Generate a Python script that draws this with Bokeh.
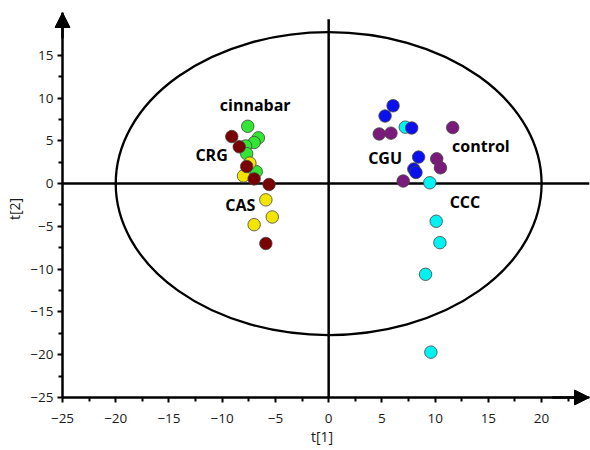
from bokeh.plotting import figure
from bokeh.models import Range1d, FixedTicker, Arrow, NormalHead, ColumnDataSource, LinearAxis
from bokeh.core.properties import value
from bokeh.embed import file_html
from bokeh.resources import INLINE

# ---- data (t[1], t[2] scores) ----
crg_x = [-9.1, -8.4, -7.7, -7.0, -5.6, -5.9]
crg_y = [5.5, 4.3, 2.0, 0.55, -0.1, -7.0]

cinnabar_x = [-7.6, -6.6, -7.0, -7.8, -7.7, -6.8]
cinnabar_y = [6.7, 5.35, 4.8, 4.4, 3.5, 1.4]

cas_x = [-7.4, -8.0, -5.9, -5.3, -7.0]
cas_y = [2.4, 0.9, -1.9, -3.9, -4.8]

cgu_x = [6.05, 5.3, 7.8, 8.45, 8.0, 8.2]
cgu_y = [9.1, 7.9, 6.5, 3.1, 1.7, 1.3]

ccc_x = [7.2, 9.5, 10.1, 10.45, 9.1, 9.6]
ccc_y = [6.6, 0.1, -4.4, -6.9, -10.6, -19.7]

control_x = [4.75, 5.85, 11.65, 10.15, 10.5, 7.0]
control_y = [5.8, 5.9, 6.55, 2.9, 1.85, 0.3]

group_names = ["cinnabar", "CRG", "CAS", "CGU", "control", "CCC"]
label_x = [-6.9, -11.0, -8.3, 5.3, 14.3, 12.8]
label_y = [9.2, 3.3, -2.5, 3.0, 4.45, -2.1]

x_ticks = [-25, -20, -15, -10, -5, 0, 5, 10, 15, 20]
x_minor = [-22.5, -17.5, -12.5, -7.5, -2.5, 2.5, 7.5, 12.5, 17.5, 22.5]
y_ticks = [-25, -20, -15, -10, -5, 0, 5, 10, 15]
y_minor = [-22.5, -17.5, -12.5, -7.5, -2.5, 2.5, 7.5, 12.5]

x_axis_min, x_axis_max = -25, 24.5
y_axis_min, y_axis_max = -25, 20.0

ellipse_w = 40.0
ellipse_h = 35.4

FONT = "Open Sans"

# frame slightly larger than the axes so the arrow heads are not clipped
x_pad = 8 / 10.644
y_pad = 8 / 8.55
p = figure(frame_width=535, frame_height=393,
           x_range=Range1d(x_axis_min - x_pad, x_axis_max),
           y_range=Range1d(y_axis_min - y_pad, y_axis_max),
           output_backend="svg", toolbar_location=None,
           min_border_left=54, min_border_top=12, min_border_right=1, min_border_bottom=45)
p.outline_line_color = None
p.xgrid.visible = False
p.ygrid.visible = False
p.background_fill_color = "white"

# panel axes: tick labels and axis titles only
for ax, ticks, minor in ((p.xaxis[0], x_ticks, x_minor), (p.yaxis[0], y_ticks, y_minor)):
    ax.ticker = FixedTicker(ticks=ticks, minor_ticks=minor)
    ax.axis_line_color = None
    ax.major_tick_line_color = None
    ax.minor_tick_line_color = None
    ax.major_tick_out = 0
    ax.major_tick_in = 0
    ax.minor_tick_out = 0
    ax.minor_tick_in = 0
    ax.major_label_text_font = FONT
    ax.major_label_text_font_size = "13.5px"
    ax.major_label_text_color = "#1a1a1a"
    ax.axis_label_text_font = FONT
    ax.axis_label_text_font_size = "14px"
    ax.axis_label_text_font_style = "normal"
    ax.axis_label_text_color = "#1a1a1a"

p.xaxis.axis_label = "t[1]"
p.yaxis.axis_label = "t[2]"
p.xaxis.major_label_standoff = 8
p.xaxis.axis_label_standoff = 1
p.yaxis.major_label_standoff = 1
p.yaxis.axis_label_standoff = 3

# axis lines with ticks, fixed at -25 inside the frame
for side, ticks, minor, bnds in (("below", x_ticks, x_minor, (x_axis_min, x_axis_max)),
                                 ("left", y_ticks, y_minor, (y_axis_min, y_axis_max))):
    ax = LinearAxis(fixed_location=-25, ticker=FixedTicker(ticks=ticks, minor_ticks=minor),
                    bounds=bnds, major_label_text_font_size="0px",
                    major_label_text_color=None,
                    axis_line_width=2.5, axis_line_color="black",
                    major_tick_line_width=2, minor_tick_line_width=2,
                    major_tick_out=5, major_tick_in=0, minor_tick_out=4, minor_tick_in=0)
    p.add_layout(ax, side)

# cross lines through origin
p.segment(x0=[0, x_axis_min], y0=[y_axis_min, 0], x1=[0, x_axis_max], y1=[19.2, 0],
          line_color="black", line_width=2.5)

# Hotelling ellipse
p.ellipse(x=0, y=0, width=ellipse_w, height=ellipse_h,
          fill_color=None, line_color="black", line_width=2.3)

# axis arrows
p.add_layout(Arrow(end=NormalHead(size=15, fill_color="black", line_color="black", line_width=1),
                   x_start=x_axis_min, y_start=17.0, x_end=x_axis_min, y_end=y_axis_max,
                   line_color="black", line_width=2.5))
p.add_layout(Arrow(end=NormalHead(size=15, fill_color="black", line_color="black", line_width=1),
                   x_start=21.0, y_start=y_axis_min, x_end=x_axis_max, y_end=y_axis_min,
                   line_color="black", line_width=2.5))

groups = [
    (cinnabar_x, cinnabar_y, "#33E633"),
    (cas_x, cas_y, "#F2E600"),
    (crg_x, crg_y, "#7A0000"),
    (control_x, control_y, "#7A1A7A"),
    (ccc_x, ccc_y, "#00F2F2"),
    (cgu_x, cgu_y, "#0A10EE"),
]
for xs, ys, col in groups:
    p.scatter(x=xs, y=ys, size=12.5, fill_color=col, line_color="#444444", line_width=0.8)

src = ColumnDataSource(dict(x=label_x, y=label_y, t=group_names))
p.text(x="x", y="y", text="t", source=src, text_font=value(FONT), text_font_size="16px",
       text_font_style="bold", text_align="center", text_baseline="middle", text_color="black")

open("out.html", "w").write(file_html(p, INLINE))
